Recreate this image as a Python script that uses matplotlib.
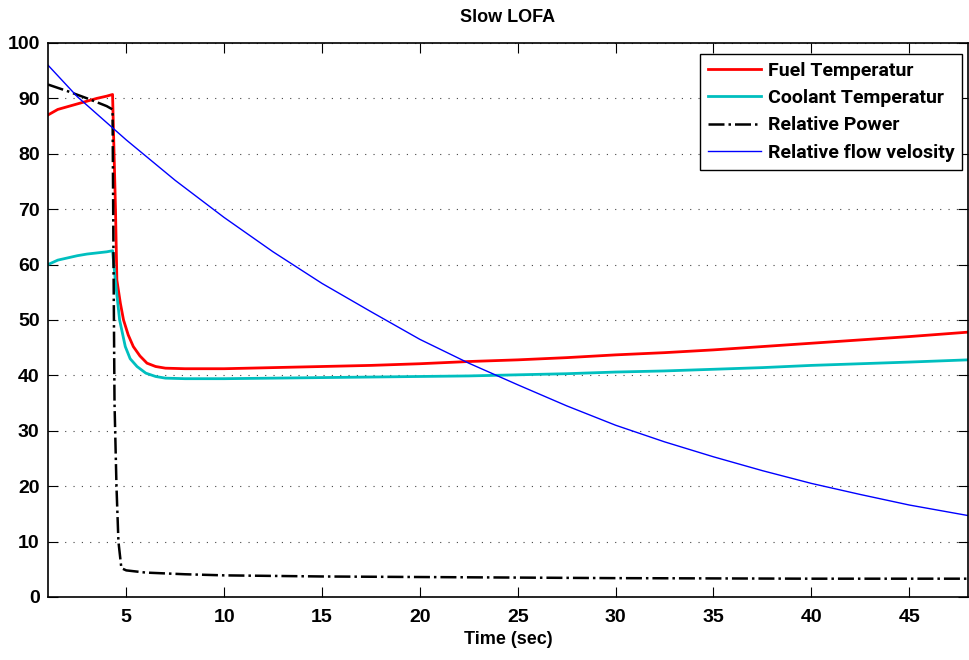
import matplotlib
matplotlib.use('Agg')
import matplotlib.pyplot as plt

t_fuel = [1, 1.5, 2, 2.5, 3, 3.5, 4, 4.3, 4.45, 4.52, 4.7, 4.86, 5.1, 5.36, 5.7, 6.06, 6.5, 7, 8, 10, 12.5, 15, 17.5, 20, 22.5, 25, 27.5, 30, 32.5, 35, 37.5, 40, 42.5, 45, 48]
fuel = [87, 88, 88.5, 89, 89.5, 90, 90.4, 90.7, 70, 57.2, 53, 50, 47.3, 45.2, 43.5, 42.2, 41.6, 41.3, 41.2, 41.2, 41.4, 41.6, 41.8, 42.1, 42.5, 42.8, 43.2, 43.7, 44.1, 44.6, 45.2, 45.8, 46.4, 47.0, 47.8]

t_cool = [1, 1.5, 2, 2.5, 3, 3.5, 4, 4.3, 4.44, 4.66, 4.95, 5.2, 5.55, 6, 6.5, 7, 8, 10, 12.5, 15, 17.5, 20, 22.5, 25, 27.5, 30, 32.5, 35, 37.5, 40, 42.5, 45, 48]
coolant = [60, 60.8, 61.2, 61.6, 61.9, 62.1, 62.3, 62.5, 57.2, 50, 45.2, 43, 41.6, 40.4, 39.8, 39.5, 39.4, 39.4, 39.5, 39.6, 39.7, 39.8, 39.9, 40.1, 40.3, 40.6, 40.8, 41.1, 41.4, 41.8, 42.1, 42.4, 42.8]

t_pow = [1, 2, 3, 4, 4.3, 4.35, 4.4, 4.5, 4.6, 4.75, 5, 6, 8, 10, 15, 20, 30, 40, 48]
power = [92.5, 91.3, 90, 88.6, 88, 60, 35, 20, 10, 5.2, 4.8, 4.4, 4.1, 3.9, 3.7, 3.6, 3.4, 3.3, 3.3]

t_flow = [1, 2.5, 5, 7.5, 10, 12.5, 15, 17.5, 20, 22.5, 25, 27.5, 30, 32.5, 35, 37.5, 40, 42.5, 45, 48]
flow = [96, 90.3, 82.5, 75.2, 68.5, 62.3, 56.6, 51.5, 46.5, 42.2, 38.3, 34.5, 31.0, 28.0, 25.3, 22.8, 20.5, 18.5, 16.6, 14.7]

plt.rcParams['font.family'] = ['Liberation Sans', 'DejaVu Sans']

fig = plt.figure(figsize=(9.69, 6.6), dpi=100)
ax = fig.add_axes([0.0495, 0.0955, 0.9494, 0.8394])

ax.plot(t_fuel, fuel, color='#ff0000', lw=2, label='Fuel Temperatur')
ax.plot(t_cool, coolant, color='#00bfbf', lw=2, label='Coolant Temperatur')
ax.plot(t_pow, power, color='black', lw=1.8, ls='-.', label='Relative Power')
ax.plot(t_flow, flow, color='#0000ff', lw=1, label='Relative flow velosity')

ax.set_xlim(1, 48)
ax.set_ylim(0, 100)
ax.set_xticks(range(5, 46, 5))
ax.set_yticks(range(0, 101, 10))
ax.yaxis.grid(True, ls=(0, (1, 6.5)), color='#444444', lw=0.8)
ax.tick_params(direction='in', top=True, right=True, length=7, labelsize=14)
ax.tick_params(axis='x', pad=9)
ax.tick_params(axis='y', pad=6)
for lab in ax.get_xticklabels() + ax.get_yticklabels():
    lab.set_fontweight('bold')
for s in ax.spines.values():
    s.set_linewidth(1.2)

ax.set_title('Slow LOFA', fontsize=13, fontweight='bold', pad=15)
ax.set_xlabel('Time (sec)', fontsize=13, fontweight='bold', labelpad=3)

leg = ax.legend(loc='upper right', bbox_to_anchor=(0.9935, 0.98), borderaxespad=0,
                fancybox=False, edgecolor='black', framealpha=1,
                prop={'family': ['Roboto', 'DejaVu Sans'], 'size': 14, 'weight': 'bold'},
                handlelength=2.7, labelspacing=0.48, handletextpad=0.35, borderpad=0.4)
leg.get_frame().set_linewidth(1)

fig.savefig('out.png', dpi=100)
